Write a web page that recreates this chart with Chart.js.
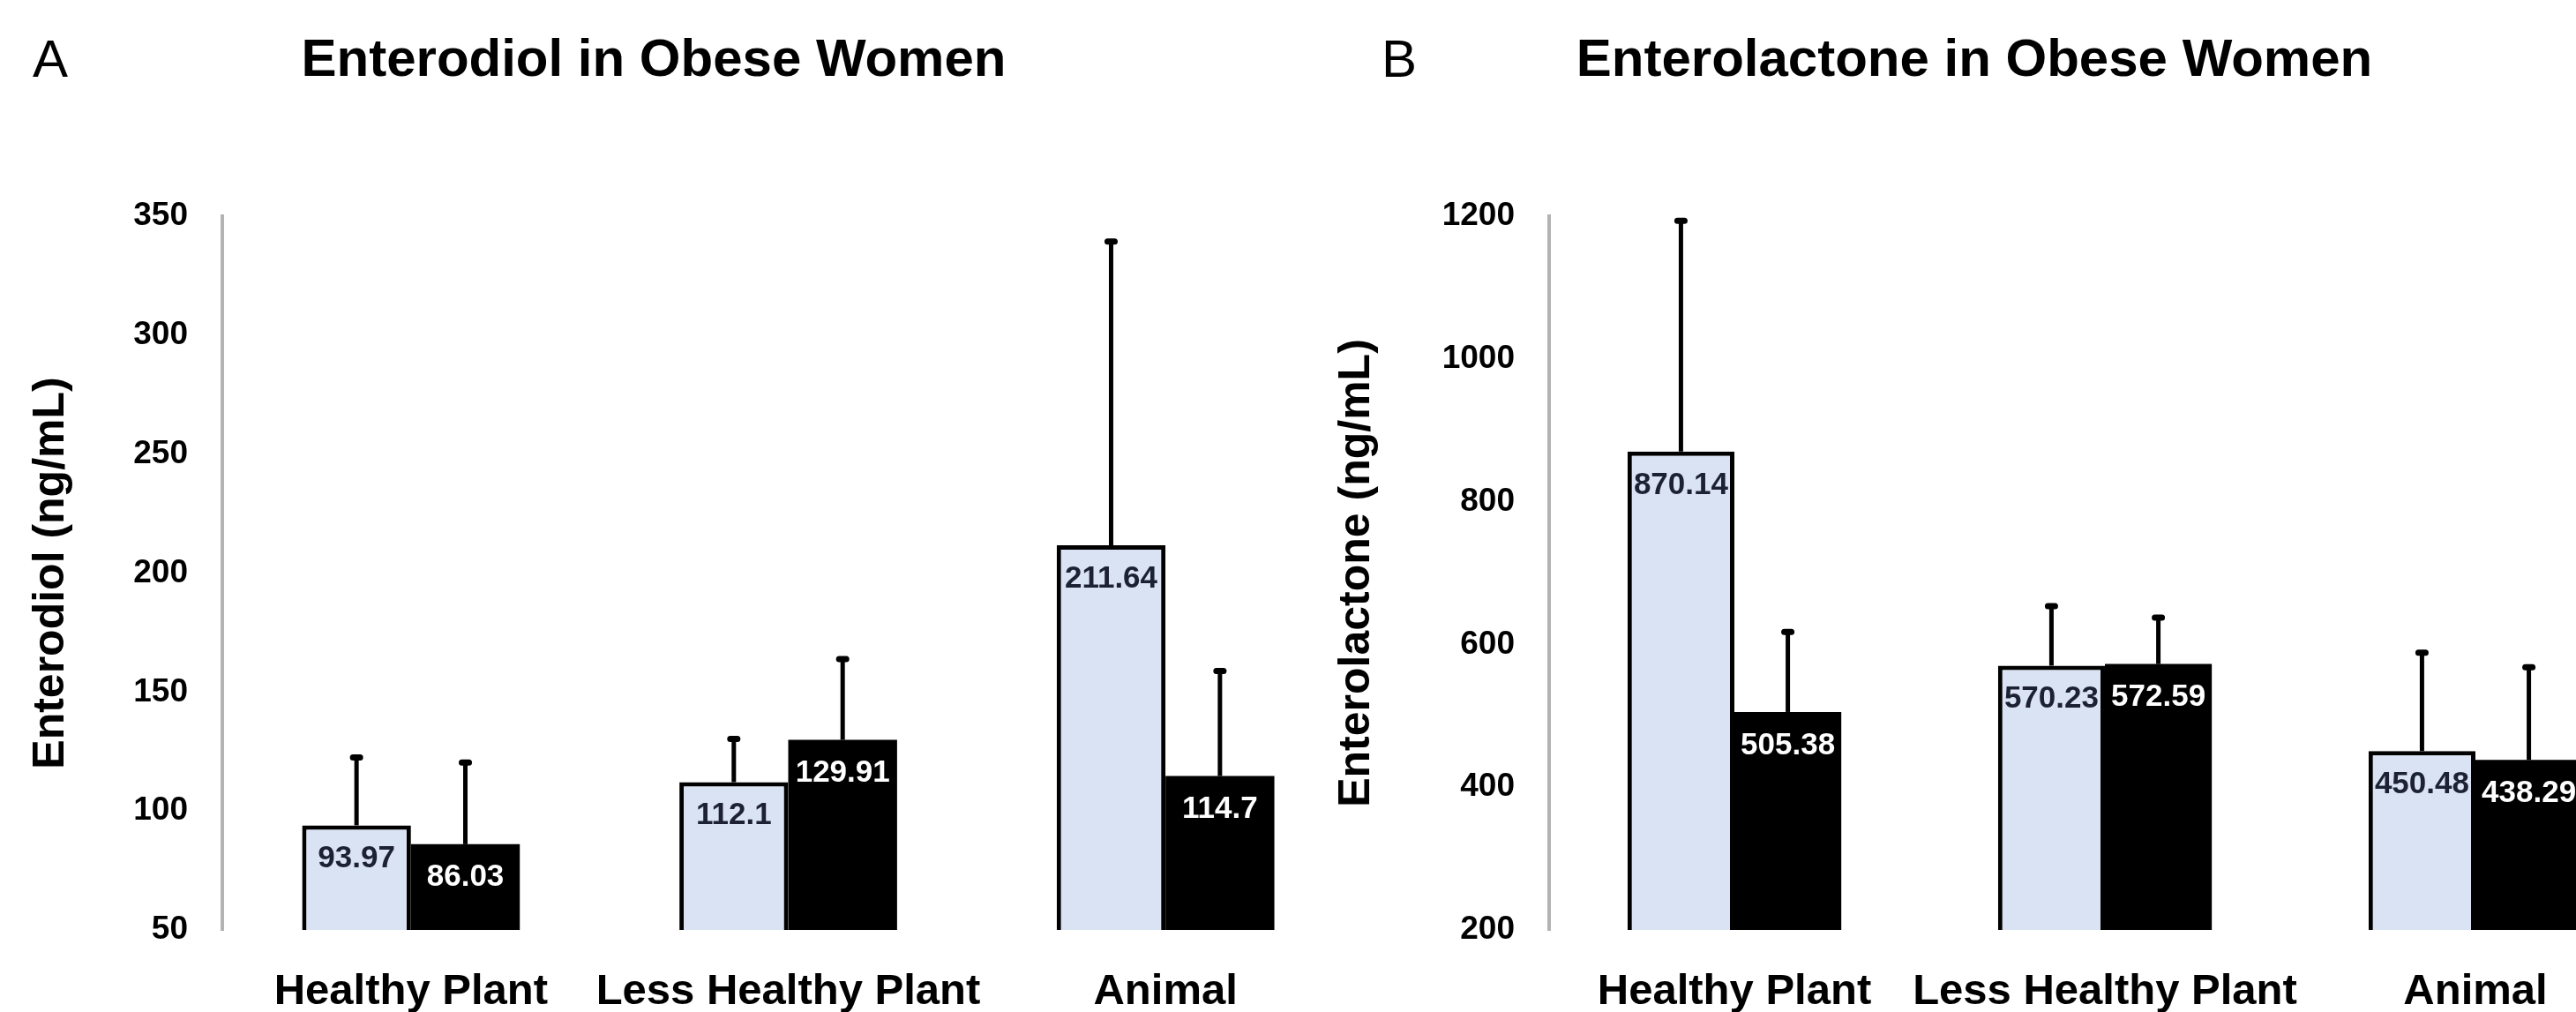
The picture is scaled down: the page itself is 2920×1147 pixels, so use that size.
<!DOCTYPE html>
<html>
<head>
<meta charset="utf-8">
<script src="https://cdn.jsdelivr.net/npm/chart.js@4.4.1/dist/chart.umd.min.js"></script>
<style>
html,body{margin:0;padding:0;background:#fff;width:2920px;height:1147px;overflow:hidden;position:relative;font-family:'Liberation Sans',Arial,Helvetica,sans-serif;}
.panel{position:absolute;top:0;height:1147px;}
#wrapA{left:-53px;width:1588px;}
#wrapB{left:1460px;width:1556px;}
.letter{position:absolute;top:37px;font-size:60px;line-height:60px;color:#000;font-weight:normal;}
</style>
</head>
<body>
<div id="wrapA" class="panel"><canvas id="chartA"></canvas></div>
<div id="wrapB" class="panel"><canvas id="chartB"></canvas></div>
<div class="letter" style="left:37px">A</div>
<div class="letter" style="left:1566px">B</div>
<script>
// ---- data ----
const categories = ['Healthy Plant', 'Less Healthy Plant', 'Animal'];
const seriesNames = ['Group 1', 'Group 2'];

const enterodiolLight = [93.97, 112.1, 211.64];
const enterodiolDark = [86.03, 129.91, 114.7];
const enterodiolLightErr = [29.3, 18.9, 128.4];
const enterodiolDarkErr = [35.1, 34.7, 44.9];
const enterodiolTicks = [50, 100, 150, 200, 250, 300, 350];

const enterolactoneLight = [870.14, 570.23, 450.48];
const enterolactoneDark = [505.38, 572.59, 438.29];
const enterolactoneLightErr = [325.9, 85.8, 140.5];
const enterolactoneDarkErr = [114.6, 67.4, 132.2];
const enterolactoneTicks = [200, 400, 600, 800, 1000, 1200];

// ---- styling ----
Chart.defaults.font.family = "'Liberation Sans', Arial, Helvetica, sans-serif";
const LIGHT = '#dae3f4';
const DARK = '#000000';

const barExtras = {
  id: 'barExtras',
  afterDatasetsDraw(chart) {
    const ctx = chart.ctx;
    const yScale = chart.scales.y;
    chart.data.datasets.forEach((ds, di) => {
      const meta = chart.getDatasetMeta(di);
      meta.data.forEach((el, i) => {
        const v = ds.data[i];
        const e = ds.errors[i];
        const yTop = yScale.getPixelForValue(v + e);
        ctx.save();
        ctx.strokeStyle = '#000';
        ctx.lineWidth = 5;
        ctx.beginPath();
        ctx.moveTo(el.x, el.y);
        ctx.lineTo(el.x, yTop);
        ctx.stroke();
        ctx.lineCap = 'round';
        ctx.lineWidth = 7;
        ctx.beginPath();
        ctx.moveTo(el.x - 4, yTop + 2);
        ctx.lineTo(el.x + 4, yTop + 2);
        ctx.stroke();
        ctx.fillStyle = ds.valueColor;
        ctx.font = "bold 35px 'Liberation Sans', Arial, sans-serif";
        ctx.textAlign = 'center';
        ctx.textBaseline = 'middle';
        ctx.fillText(String(v), el.x, el.y + 38);
        ctx.restore();
      });
    });
  }
};

function makeChart(canvasId, cfg) {
  const ticks = cfg.ticks;
  return new Chart(document.getElementById(canvasId), {
    type: 'bar',
    data: {
      labels: categories,
      datasets: [
        { label: seriesNames[0], data: cfg.light, errors: cfg.lightErr, backgroundColor: LIGHT,
          borderColor: '#000', borderWidth: 5, borderSkipped: false, valueColor: '#1c2233' },
        { label: seriesNames[1], data: cfg.dark, errors: cfg.darkErr, backgroundColor: DARK,
          borderColor: '#000', borderWidth: 0, borderSkipped: false, valueColor: '#ffffff' }
      ]
    },
    options: {
      responsive: true,
      maintainAspectRatio: false,
      animation: false,
      layout: { padding: 0 },
      datasets: { bar: { barPercentage: 1.0, categoryPercentage: 0.577 } },
      plugins: {
        legend: { display: false },
        tooltip: { enabled: false },
        title: {
          display: true, text: cfg.title, color: '#000',
          font: { size: 60, weight: 'bold', lineHeight: 1.2 },
          padding: { top: 33, bottom: 140 }
        }
      },
      scales: {
        x: {
          grid: { display: false, drawTicks: false },
          border: { display: false },
          ticks: { color: '#000', font: { size: 49, weight: 'bold', lineHeight: 1.2 }, padding: 41,
                   maxRotation: 0, minRotation: 0, autoSkip: false },
          afterFit(s) { s.height = 93; }
        },
        y: {
          min: ticks[0], max: ticks[ticks.length - 1],
          ticks: { stepSize: ticks[1] - ticks[0], color: '#000', font: { size: 37, weight: 'bold' }, padding: 39,
                   callback: (v) => String(v) },
          grid: { display: false, drawTicks: false },
          border: { display: true, color: '#b3b3b3', width: 4 },
          title: { display: true, text: cfg.yTitle, color: '#000',
                   font: { size: 50, weight: 'bold', lineHeight: 1.2 },
                   padding: { top: cfg.yTitlePad, bottom: 0 } },
          afterFit(s) { s.width = cfg.yWidth; }
        }
      }
    },
    plugins: [barExtras]
  });
}

makeChart('chartA', {
  title: 'Enterodiol in Obese Women', yTitle: 'Enterodiol (ng/mL)',
  light: enterodiolLight, dark: enterodiolDark,
  lightErr: enterodiolLightErr, darkErr: enterodiolDarkErr,
  ticks: enterodiolTicks, yWidth: 305, yTitlePad: 81
});
makeChart('chartB', {
  title: 'Enterolactone in Obese Women', yTitle: 'Enterolactone (ng/mL)',
  light: enterolactoneLight, dark: enterolactoneDark,
  lightErr: enterolactoneLightErr, darkErr: enterolactoneDarkErr,
  ticks: enterolactoneTicks, yWidth: 296, yTitlePad: 48
});
</script>
</body>
</html>
